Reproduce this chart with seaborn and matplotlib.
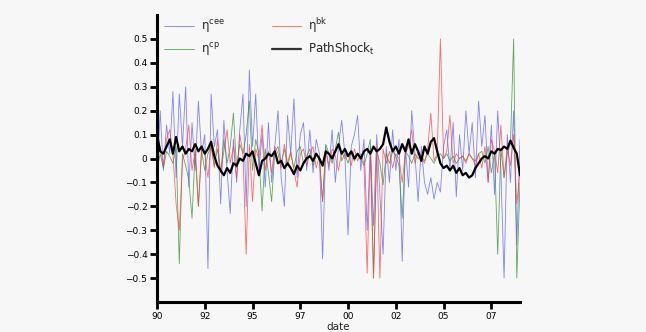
import numpy as np
import pandas as pd
import matplotlib
matplotlib.use("Agg")
import matplotlib.pyplot as plt
import seaborn as sns

# bi-monthly observations from 1990 onward
start_year = 1990
step = 1 / 6

cee = [
    -0.10, 0.20, -0.05, 0.14, 0.02, 0.28,
    -0.08, 0.27, 0.05, 0.30, -0.12, 0.15,
    -0.05, 0.24, 0.02, 0.10, -0.46, 0.27,
    0.05, 0.12, -0.19, 0.16, -0.05, -0.23,
    0.08, -0.10, 0.12, 0.27, -0.20, 0.37,
    0.05, 0.27, -0.05, 0.10, -0.12, 0.15,
    -0.10, 0.05, 0.20, -0.08, -0.20, 0.18,
    0.02, 0.25, -0.08, 0.10, 0.15, -0.05,
    0.12, -0.06, 0.08, 0.02, -0.42, 0.05,
    -0.05, 0.12, -0.10, 0.05, 0.16, 0.02,
    -0.32, 0.05, 0.10, 0.18, -0.05, 0.08,
    -0.30, 0.05, -0.28, 0.10, -0.15, -0.40,
    0.05, -0.10, 0.12, -0.05, 0.08, -0.43,
    0.05, -0.12, 0.20, 0.02, -0.18, 0.05,
    -0.10, -0.15, -0.08, -0.17, -0.10, -0.14,
    0.05, 0.12, -0.05, 0.15, -0.16, 0.10,
    -0.05, 0.20, 0.02, 0.15, -0.08, 0.24,
    0.05, 0.18, -0.10, 0.14, -0.15, 0.20,
    -0.05, -0.50, 0.10, -0.10, 0.20, -0.36,
    0.08,
]

cp = [
    -0.05, 0.02, -0.04, 0.03, 0.01, -0.02,
    0.05, -0.44, 0.02, -0.03, -0.09, -0.25,
    0.04, -0.20, 0.03, -0.05, 0.02, 0.05,
    -0.03, 0.04, -0.06, 0.08, -0.02, 0.05,
    0.19, -0.04, 0.06, 0.02, 0.10, 0.24,
    -0.05, 0.08, 0.02, -0.22, 0.04, -0.06,
    -0.18, 0.03, 0.05, -0.02, 0.04, -0.03,
    0.02, -0.04, 0.03, 0.05, -0.02, 0.01,
    0.04, -0.03, 0.02, 0.00, -0.18, 0.06,
    0.02, -0.02, 0.04, 0.11, -0.01, 0.02,
    -0.02, 0.03, -0.01, 0.02, 0.00, -0.03,
    0.02, 0.08, -0.50, 0.03, -0.02, -0.11,
    0.02, -0.02, 0.03, 0.01, -0.03, -0.25,
    0.03, 0.01, -0.02, 0.02, 0.00, 0.01,
    -0.01, 0.02, 0.00, -0.02, 0.01, 0.02,
    0.00, 0.02, -0.01, 0.01, -0.02, 0.00,
    0.01, -0.01, 0.02, 0.00, -0.01, 0.02,
    0.03, -0.02, 0.05, -0.06, 0.02, -0.40,
    0.04, -0.08, 0.02, 0.06, 0.50, -0.50,
    -0.10,
]

bk = [
    0.00, 0.05, -0.03, 0.08, 0.12, 0.02,
    -0.19, -0.30, -0.01, 0.04, 0.14, -0.05,
    0.03, -0.20, 0.05, 0.02, -0.08, 0.06,
    -0.04, 0.08, -0.06, 0.03, 0.12, -0.02,
    0.05, -0.08, 0.10, 0.02, -0.40, 0.06,
    -0.18, 0.04, 0.00, 0.14, -0.05, 0.03,
    -0.06, 0.05, 0.02, -0.04, 0.06, -0.02,
    0.03, -0.05, -0.12, 0.02, 0.04, -0.03,
    0.02, 0.05, -0.04, 0.01, -0.18, 0.03,
    -0.03, 0.04, 0.01, -0.05, 0.03, 0.00,
    0.02, -0.03, 0.04, -0.01, 0.02, -0.02,
    -0.48, 0.03, -0.50, 0.05, -0.50, 0.04,
    -0.02, 0.03, -0.04, 0.02, 0.00, -0.10,
    0.02, 0.05, 0.12, -0.02, 0.03, 0.01,
    -0.02, 0.04, 0.19, -0.01, 0.02, 0.50,
    0.00, 0.03, 0.18, -0.02, 0.02, 0.00,
    0.01, -0.02, 0.02, 0.00, -0.03, 0.02,
    -0.04, 0.05, -0.10, 0.08, 0.03, -0.06,
    0.14, -0.08, 0.05, -0.03, 0.10, -0.19,
    -0.05,
]

path_shock = [
    0.10, 0.03, 0.02, 0.05, 0.08, 0.02,
    0.09, 0.03, 0.05, 0.02, 0.04, 0.03,
    0.06, 0.03, 0.05, 0.02, 0.04, 0.07,
    0.01, -0.03, -0.05, -0.07, -0.04, -0.06,
    -0.02, -0.03, 0.00, -0.01, 0.02, 0.01,
    0.03, -0.02, -0.07, -0.01, 0.00, 0.02,
    0.01, 0.03, -0.02, -0.01, -0.04, -0.02,
    -0.04, -0.065, -0.03, -0.05, -0.02, 0.00,
    0.01, -0.01, 0.02, 0.00, -0.03, 0.03,
    0.02, 0.00, 0.03, 0.06, 0.02, 0.04,
    0.01, 0.03, 0.00, 0.02, 0.00, 0.03,
    0.04, 0.02, 0.05, 0.03, 0.04, 0.06,
    0.13, 0.07, 0.03, 0.05, 0.02, 0.06,
    0.03, 0.08, 0.02, 0.06, 0.03, -0.01,
    0.05, 0.02, 0.07, 0.085, 0.03, -0.02,
    -0.04, -0.03, -0.05, -0.03, -0.06, -0.04,
    -0.07, -0.06, -0.08, -0.07, -0.04, -0.02,
    0.00, 0.01, 0.00, 0.03, 0.02, 0.04,
    0.035, 0.05, 0.04, 0.075, 0.045, 0.02,
    -0.07,
]

x_ticks = [1990, 1992.5, 1995, 1997.5, 2000, 2002.5, 2005, 2007.5]
x_tick_labels = ["90", "92", "95", "97", "00", "02", "05", "07"]
y_ticks = [0.5, 0.4, 0.3, 0.2, 0.1, 0, -0.1, -0.2, -0.3, -0.4, -0.5]
y_tick_labels = ["0.5", "0.4", "0.3", "0.2", "0.1", "0", "\u22120.1", "\u22120.2",
                 "\u22120.3", "\u22120.4", "\u22120.5"]

dates = start_year + step * np.arange(len(cee))
df = pd.DataFrame({"date": dates, "cee": cee, "cp": cp, "bk": bk, "path": path_shock})

sns.set_theme(style="white")
bg = "#f7f7f7"
plt.rcParams["font.family"] = ["DejaVu Sans"]

fig = plt.figure(figsize=(6.46, 3.32), dpi=100, facecolor=bg)
ax = fig.add_axes([157 / 646, 1 - 302 / 332, 363 / 646, 287 / 332])
ax.set_facecolor(bg)

sns.lineplot(data=df, x="date", y="cee", ax=ax, color="#5a5aff", lw=0.6, alpha=0.75,
             label="\u03b7$^{\\mathrm{cee}}$")
sns.lineplot(data=df, x="date", y="cp", ax=ax, color="#2f8a2f", lw=0.6, alpha=0.75,
             label="\u03b7$^{\\mathrm{cp}}$")
sns.lineplot(data=df, x="date", y="bk", ax=ax, color="#ff3c3c", lw=0.6, alpha=0.75,
             label="\u03b7$^{\\mathrm{bk}}$")
sns.lineplot(data=df, x="date", y="path", ax=ax, color="black", lw=1.6,
             label="PathShock$_{\\mathrm{t}}$")

ax.set_xlim(1990, 2009)
ax.set_ylim(-0.6, 0.6)
ax.set_xticks(x_ticks)
ax.set_xticklabels(x_tick_labels)
ax.set_yticks(y_ticks)
ax.set_yticklabels(y_tick_labels)
ax.tick_params(axis="both", direction="out", length=5, width=2, labelsize=6.5,
               colors="black", pad=2, left=True, bottom=True)
for s in ["top", "right"]:
    ax.spines[s].set_visible(False)
for s in ["left", "bottom"]:
    ax.spines[s].set_linewidth(2.2)
    ax.spines[s].set_color("black")
ax.set_xlabel("date", fontsize=7.5, labelpad=1)
ax.set_ylabel("")

leg = ax.legend(loc="upper left", bbox_to_anchor=(0.0, 1.02), ncol=2, frameon=False,
                fontsize=8.5, handlelength=2.5, handletextpad=0.6, columnspacing=4.0,
                labelspacing=0.5, borderaxespad=0.2)
for h in leg.get_lines():
    h.set_alpha(0.8)

fig.savefig("out.png", dpi=100, facecolor=bg)
